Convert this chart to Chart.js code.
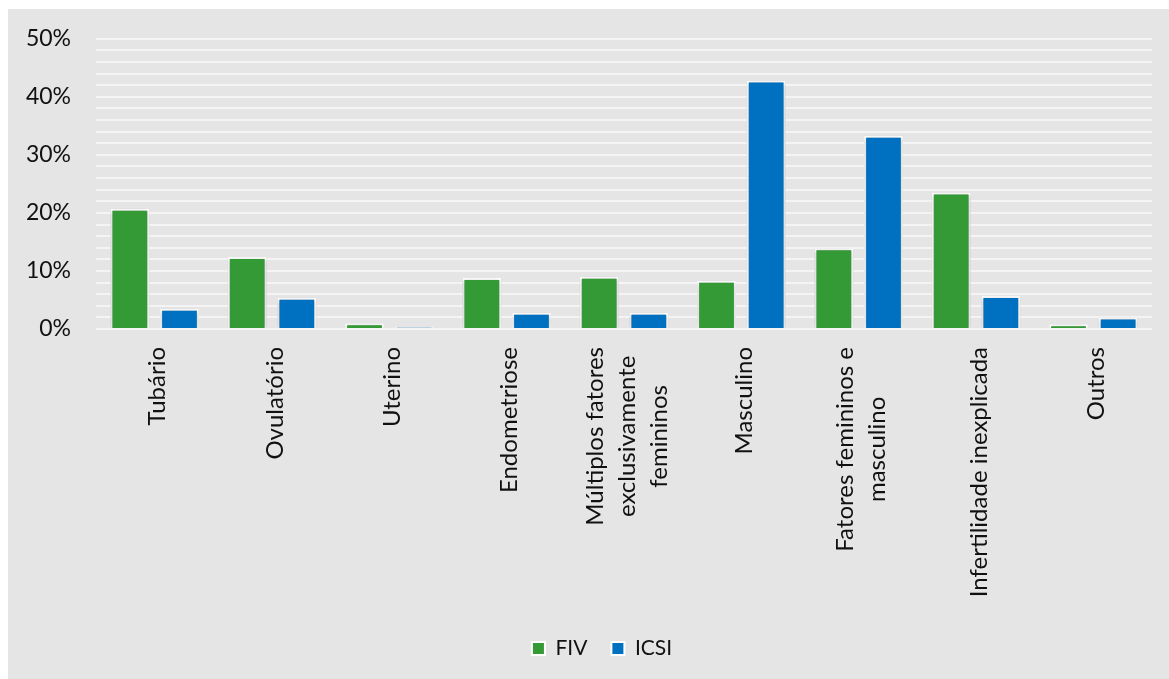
<!DOCTYPE html>
<html lang="pt">
<head>
    <meta charset="UTF-8">
    <title>Causas de infertilidade - FIV e ICSI</title>
    <script src="https://cdn.jsdelivr.net/npm/chart.js"></script>
    <style>
        html, body { margin: 0; padding: 0; background: #ffffff; }
        #wrap { width: 1169px; height: 679px; }
    </style>
</head>
<body>
    <div id="wrap">
        <canvas id="myChart" width="1169" height="679"></canvas>
    </div>

    <script>
        // Categorias (rótulos longos quebrados em várias linhas)
        const categories = [
            'Tubário',
            'Ovulatório',
            'Uterino',
            'Endometriose',
            ['Múltiplos fatores', 'exclusivamente', 'femininos'],
            'Masculino',
            ['Fatores femininos e', 'masculino'],
            'Infertilidade inexplicada',
            'Outros'
        ];

        // Percentagens por técnica
        const fivValues  = [20.7, 12.4, 1.0, 8.8, 9.0, 8.3, 13.9, 23.5, 0.8];
        const icsiValues = [3.5, 5.4, 0.3, 2.8, 2.8, 42.8, 33.3, 5.7, 2.0];

        // Eixo Y: 0 a 50 %, linhas a cada 2 %, rótulo a cada 10 %
        const yMin = 0;
        const yMax = 50;
        const yGridStep = 2;
        const yLabelStep = 10;

        const fontFamily = "Lato, 'Open Sans', sans-serif";
        const textColor = '#111111';

        // fundo cinza do gráfico
        const background = {
            id: 'background',
            beforeDraw(chart) {
                const ctx = chart.ctx;
                ctx.save();
                ctx.fillStyle = '#ffffff';
                ctx.fillRect(0, 0, chart.width, chart.height);
                ctx.fillStyle = '#e5e5e5';
                ctx.fillRect(8, 9, chart.width - 8, chart.height - 9);
                ctx.restore();
            }
        };

        // legenda um pouco à direita, centrada no quadro cinza
        const legendShift = {
            id: 'legendShift',
            afterLayout(chart) {
                chart.legend.left += 26;
                chart.legend.right += 26;
            }
        };

        // sombra leve atrás das barras
        const barShadow = {
            id: 'barShadow',
            beforeDatasetsDraw(chart) {
                const ctx = chart.ctx;
                ctx.save();
                ctx.shadowColor = 'rgba(0, 0, 0, 0.28)';
                ctx.shadowBlur = 4;
                ctx.shadowOffsetX = 0;
                ctx.shadowOffsetY = 1;
            },
            afterDatasetsDraw(chart) {
                chart.ctx.restore();
            }
        };

        // rótulos do eixo X girados, com as linhas centradas entre si
        const xLabels = {
            id: 'xLabels',
            afterDraw(chart) {
                const scale = chart.scales.x;
                const ctx = chart.ctx;
                const lineHeight = 32;
                ctx.save();
                ctx.font = '24px ' + fontFamily;
                ctx.fillStyle = textColor;
                ctx.textAlign = 'center';
                ctx.textBaseline = 'middle';
                scale.ticks.forEach(function (tick, i) {
                    const label = chart.data.labels[i];
                    const lines = Array.isArray(label) ? label : [label];
                    const maxW = Math.max.apply(null, lines.map(function (l) {
                        return ctx.measureText(l).width;
                    }));
                    const x = scale.getPixelForTick(i) + 3;
                    const y = scale.top + 18 + maxW / 2;
                    ctx.save();
                    ctx.translate(x, y);
                    ctx.rotate(-Math.PI / 2);
                    lines.forEach(function (line, j) {
                        ctx.fillText(line, 0, (j - (lines.length - 1) / 2) * lineHeight);
                    });
                    ctx.restore();
                });
                ctx.restore();
            }
        };

        const ctx = document.getElementById('myChart').getContext('2d');
        const myChart = new Chart(ctx, {
            type: 'bar',
            data: {
                labels: categories,
                datasets: [{
                    label: 'FIV',
                    data: fivValues,
                    backgroundColor: '#339a35',
                    borderColor: '#ffffff',
                    borderWidth: 2
                }, {
                    label: 'ICSI',
                    data: icsiValues,
                    backgroundColor: '#0070c0',
                    borderColor: '#ffffff',
                    borderWidth: 2
                }]
            },
            options: {
                responsive: false,
                animation: false,
                categoryPercentage: 0.846,
                barPercentage: 0.78,
                layout: {
                    padding: { left: 0, right: 17, top: 27, bottom: 10 }
                },
                plugins: {
                    tooltip: { enabled: false },
                    legend: {
                        position: 'bottom',
                        labels: {
                            font: { family: fontFamily, size: 21 },
                            color: textColor,
                            boxWidth: 13,
                            boxHeight: 13,
                            padding: 24
                        }
                    }
                },
                scales: {
                    x: {
                        grid: { display: false },
                        border: { display: false },
                        afterFit: function (scale) {
                            scale.height = 285;
                        },
                        ticks: {
                            display: false,
                            autoSkip: false
                        }
                    },
                    y: {
                        min: yMin,
                        max: yMax,
                        border: { display: false },
                        afterFit: function (scale) {
                            scale.width = 96;
                        },
                        grid: {
                            color: '#f4f4f4',
                            lineWidth: 2,
                            drawTicks: false
                        },
                        ticks: {
                            stepSize: yGridStep,
                            autoSkip: false,
                            padding: 25,
                            color: textColor,
                            font: { family: fontFamily, size: 23 },
                            callback: function (value) {
                                return value % yLabelStep === 0 ? value + '%' : '';
                            }
                        }
                    }
                }
            },
            plugins: [background, legendShift, barShadow, xLabels]
        });
    </script>
</body>
</html>
